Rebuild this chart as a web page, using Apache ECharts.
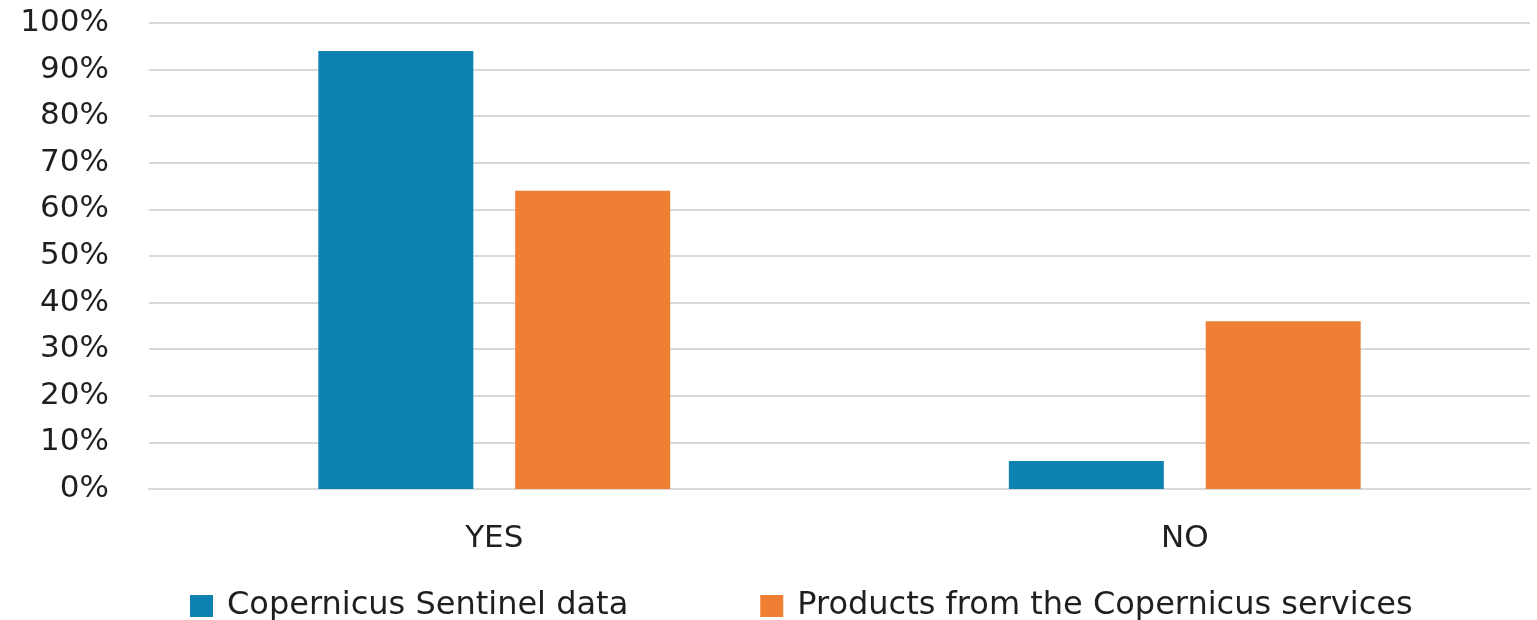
<!DOCTYPE html>
<html>
<head>
<meta charset="utf-8">
<script src="https://cdn.jsdelivr.net/npm/echarts@6/dist/echarts.min.js"></script>
<style>
  html, body { margin: 0; padding: 0; background: #fff; }
  #chart { width: 1537px; height: 620px; }
</style>
</head>
<body>
<div id="chart"></div>
<script>
// Share of respondents using each Copernicus source
const categories = ['YES', 'NO'];
const sentinelData = [94, 6];
const servicesProducts = [64, 36];
const seriesNames = ['Copernicus Sentinel data', 'Products from the Copernicus services'];
const yTicks = { min: 0, max: 100, interval: 10 };

const textColor = '#1f1f1f';
const font = 'DejaVu Sans';
const fontSize = 31;

const chart = echarts.init(document.getElementById('chart'));
chart.setOption({
  animation: false,
  textStyle: { fontFamily: font },
  grid: { left: 149, right: 7, top: 23, bottom: 131 },
  legend: {
    top: 590,
    left: 190,
    padding: 0,
    itemWidth: 23,
    itemHeight: 22,
    itemGap: 132,
    icon: 'rect',
    textStyle: { fontSize: 32, color: textColor, fontFamily: font, padding: [0, 0, 0, 9] },
    data: seriesNames
  },
  xAxis: {
    type: 'category',
    data: categories,
    axisLine: { lineStyle: { color: '#d9d9d9', width: 2 } },
    axisTick: { show: false },
    axisLabel: { fontSize: fontSize, color: textColor, margin: 34 }
  },
  yAxis: {
    type: 'value',
    min: yTicks.min,
    max: yTicks.max,
    interval: yTicks.interval,
    axisLine: { show: false },
    axisTick: { show: false },
    splitLine: { lineStyle: { color: '#d9d9d9', width: 2 } },
    axisLabel: { fontSize: fontSize, color: textColor, margin: 40, formatter: '{value}%' }
  },
  series: [
    {
      name: seriesNames[0],
      type: 'bar',
      data: sentinelData,
      barWidth: 155,
      barGap: '27%',
      itemStyle: { color: '#0e83b2' }
    },
    {
      name: seriesNames[1],
      type: 'bar',
      data: servicesProducts,
      barWidth: 155,
      itemStyle: { color: '#ee7f33' }
    }
  ]
});
</script>
</body>
</html>
